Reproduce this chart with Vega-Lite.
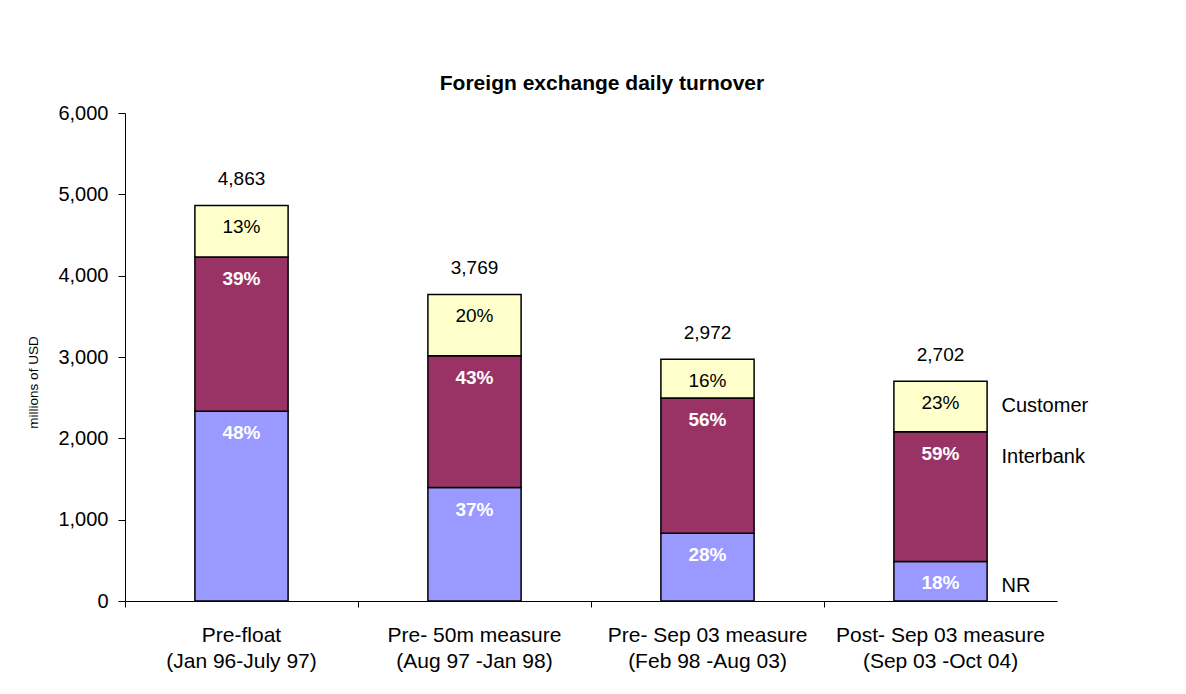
{
  "$schema": "https://vega.github.io/schema/vega-lite/v6.json",
  "width": 932,
  "height": 488,
  "autosize": {"type": "none"},
  "padding": {"left": 125, "top": 113, "right": 129, "bottom": 93},
  "background": "white",
  "title": {
    "text": "Foreign exchange daily turnover",
    "fontSize": 21,
    "fontWeight": "bold",
    "font": "Liberation Sans",
    "color": "black",
    "anchor": "middle",
    "offset": 9,
    "dx": 11
  },
  "data": {
    "values": [
      {"period": "Pre-float|(Jan 96-July 97)", "series": "NR", "value": 2334},
      {"period": "Pre-float|(Jan 96-July 97)", "series": "Interbank", "value": 1897},
      {"period": "Pre-float|(Jan 96-July 97)", "series": "Customer", "value": 632},
      {"period": "Pre- 50m measure|(Aug 97 -Jan 98)", "series": "NR", "value": 1395},
      {"period": "Pre- 50m measure|(Aug 97 -Jan 98)", "series": "Interbank", "value": 1621},
      {"period": "Pre- 50m measure|(Aug 97 -Jan 98)", "series": "Customer", "value": 753},
      {"period": "Pre- Sep 03 measure|(Feb 98 -Aug 03)", "series": "NR", "value": 832},
      {"period": "Pre- Sep 03 measure|(Feb 98 -Aug 03)", "series": "Interbank", "value": 1664},
      {"period": "Pre- Sep 03 measure|(Feb 98 -Aug 03)", "series": "Customer", "value": 476},
      {"period": "Post- Sep 03 measure|(Sep 03 -Oct 04)", "series": "NR", "value": 486},
      {"period": "Post- Sep 03 measure|(Sep 03 -Oct 04)", "series": "Interbank", "value": 1594},
      {"period": "Post- Sep 03 measure|(Sep 03 -Oct 04)", "series": "Customer", "value": 622}
    ]
  },
  "transform": [
    {"calculate": "indexof(['NR','Interbank','Customer'], datum.series)", "as": "ord"},
    {"stack": "value", "groupby": ["period"], "sort": [{"field": "ord", "order": "ascending"}], "as": ["y0", "y1"]},
    {"joinaggregate": [{"op": "sum", "field": "value", "as": "total"}], "groupby": ["period"]},
    {"calculate": "datum.value / datum.total", "as": "pct"}
  ],
  "encoding": {
    "x": {
      "field": "period",
      "type": "nominal",
      "sort": null,
      "scale": {"paddingInner": 0, "paddingOuter": 0},
      "axis": {
        "title": null,
        "labelAngle": 0,
        "labelExpr": "split(datum.value, '|')",
        "labelFontSize": 21,
        "labelLineHeight": 26,
        "labelColor": "black",
        "labelPadding": 17,
        "bandPosition": 0,
        "tickSize": 6,
        "tickColor": "black",
        "domainColor": "black",
        "labelLimit": 300
      }
    }
  },
  "layer": [
    {
      "mark": {"type": "bar", "width": {"band": 0.4}, "stroke": "black", "strokeWidth": 1.5},
      "encoding": {
        "y": {
          "field": "y1",
          "type": "quantitative",
          "scale": {"domain": [0, 6000], "nice": false},
          "axis": {
            "title": "millions of USD",
            "titleFontSize": 13.5,
            "titleFontWeight": "normal",
            "titleColor": "black",
            "titleX": -92,
            "titleY": 269,
            "titleAngle": 270,
            "titleAlign": "center",
            "titleBaseline": "middle",
            "values": [0, 1000, 2000, 3000, 4000, 5000, 6000],
            "format": ",.0f",
            "labelFontSize": 20,
            "labelColor": "black",
            "labelPadding": 10,
            "tickSize": 7,
            "tickColor": "black",
            "domainColor": "black",
            "grid": false
          }
        },
        "y2": {"field": "y0"},
        "color": {
          "field": "series",
          "type": "nominal",
          "scale": {"domain": ["NR", "Interbank", "Customer"], "range": ["#9999FF", "#993366", "#FFFFCC"]},
          "legend": null
        }
      }
    },
    {
      "transform": [{"filter": "datum.series == 'Customer'"}],
      "mark": {"type": "text", "fontSize": 19, "color": "black", "dy": 22, "baseline": "middle"},
      "encoding": {
        "y": {"field": "y1", "type": "quantitative"},
        "text": {"field": "pct", "type": "quantitative", "format": ".0%"}
      }
    },
    {
      "transform": [{"filter": "datum.series != 'Customer'"}],
      "mark": {"type": "text", "fontSize": 19, "fontWeight": "bold", "color": "white", "dy": 22, "baseline": "middle"},
      "encoding": {
        "y": {"field": "y1", "type": "quantitative"},
        "text": {"field": "pct", "type": "quantitative", "format": ".0%"}
      }
    },
    {
      "transform": [{"filter": "datum.series == 'Customer'"}],
      "mark": {"type": "text", "fontSize": 19, "color": "black", "dy": -26, "baseline": "middle"},
      "encoding": {
        "y": {"field": "total", "type": "quantitative"},
        "text": {"field": "total", "type": "quantitative", "format": ","}
      }
    },
    {
      "transform": [{"filter": "datum.period == 'Post- Sep 03 measure|(Sep 03 -Oct 04)'"}],
      "mark": {"type": "text", "fontSize": 20, "color": "black", "dy": 25, "dx": 61, "align": "left", "baseline": "middle"},
      "encoding": {
        "y": {"field": "y1", "type": "quantitative"},
        "text": {"field": "series", "type": "nominal"}
      }
    }
  ],
  "config": {
    "font": "Liberation Sans",
    "view": {"stroke": null}
  }
}
